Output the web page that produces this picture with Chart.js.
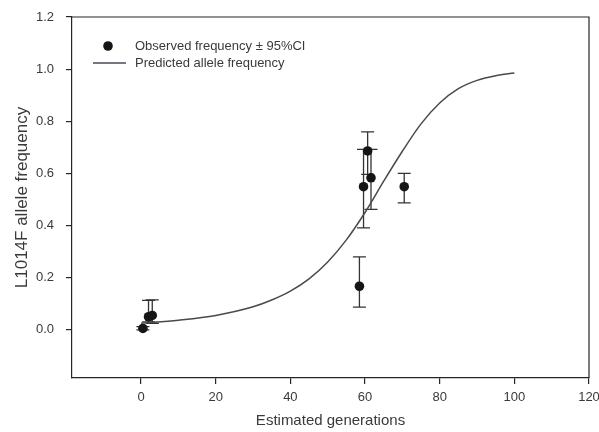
<!DOCTYPE html>
<html>
<head>
<meta charset="utf-8">
<script src="https://cdn.jsdelivr.net/npm/chart.js@4.4.1/dist/chart.umd.min.js"></script>
<style>
  html, body { margin: 0; padding: 0; background: #ffffff; }
  #wrap { width: 599px; height: 432px; }
</style>
</head>
<body>
<div id="wrap"><canvas id="c" width="599" height="432"></canvas></div>
<script>
// Observed L1014F frequencies with 95% confidence limits
const obsGen   = [0.5, 2, 3, 58.5, 59.6, 60.7, 61.6, 70.5];
const obsFreq  = [0.005, 0.05, 0.055, 0.167, 0.549, 0.686, 0.583, 0.549];
const ciLow    = [0.0, 0.03, 0.025, 0.087, 0.391, 0.596, 0.462, 0.487];
const ciHigh   = [0.012, 0.113, 0.115, 0.28, 0.692, 0.759, 0.692, 0.6];

// Predicted allele frequency trajectory
const predGen  = [0, 10, 20, 30, 35, 40, 45, 50, 55, 60, 65, 70, 75, 80, 85, 90, 95, 100];
const predFreq = [0.025, 0.037, 0.055, 0.088, 0.114, 0.148, 0.195, 0.26, 0.345, 0.45, 0.57, 0.685, 0.79, 0.87, 0.925, 0.957, 0.975, 0.985];

// Axis ticks
const xTicks = [0, 20, 40, 60, 80, 100, 120];
const yTicks = [0, 0.2, 0.4, 0.6, 0.8, 1.0, 1.2];

const labels = {
  observed: 'Observed frequency \u00b1 95%CI',
  predicted: 'Predicted allele frequency',
  x: 'Estimated generations',
  y: 'L1014F allele frequency'
};

const FONT = '"Liberation Sans", Arial, sans-serif';
const AXIS = '#262626';
const TEXT = '#3a3a3a';

// Vertical error bars with caps, drawn through the chart scales
const errorBars = {
  id: 'errorBars',
  beforeDatasetsDraw(chart) {
    const {ctx, scales: {x, y}} = chart;
    ctx.save();
    ctx.strokeStyle = '#333';
    ctx.lineWidth = 1.3;
    const cap = 6.5;
    obsGen.forEach((g, i) => {
      const px = x.getPixelForValue(g);
      const lo = y.getPixelForValue(ciLow[i]);
      const hi = y.getPixelForValue(ciHigh[i]);
      ctx.beginPath();
      ctx.moveTo(px, lo); ctx.lineTo(px, hi);
      ctx.moveTo(px - cap, lo); ctx.lineTo(px + cap, lo);
      ctx.moveTo(px - cap, hi); ctx.lineTo(px + cap, hi);
      ctx.stroke();
    });
    ctx.restore();
  }
};

// Closes the plot frame and draws the in-plot legend
const frameAndLegend = {
  id: 'frameAndLegend',
  afterDraw(chart) {
    const {ctx, chartArea: a} = chart;
    ctx.save();
    ctx.strokeStyle = AXIS;
    ctx.lineWidth = 1.2;
    ctx.beginPath();
    ctx.moveTo(a.left, a.top); ctx.lineTo(a.right, a.top); ctx.lineTo(a.right, a.bottom);
    ctx.stroke();

    const ds = chart.data.datasets;
    ctx.font = '13px ' + FONT;
    ctx.fillStyle = TEXT;
    ctx.textBaseline = 'middle';
    ctx.textAlign = 'left';
    // observed marker
    ctx.beginPath();
    ctx.arc(108, 46, 4.8, 0, Math.PI * 2);
    ctx.fillStyle = '#151515';
    ctx.fill();
    ctx.fillStyle = TEXT;
    ctx.fillText(ds[1].label, 135, 46);
    // predicted line
    ctx.strokeStyle = '#4a4a55';
    ctx.lineWidth = 1.5;
    ctx.beginPath();
    ctx.moveTo(93, 63); ctx.lineTo(126, 63);
    ctx.stroke();
    ctx.fillText(ds[0].label, 135, 63);
    ctx.restore();
  }
};

new Chart(document.getElementById('c'), {
  data: {
    datasets: [
      {
        type: 'line',
        label: labels.predicted,
        data: predGen.map((g, i) => ({x: g, y: predFreq[i]})),
        borderColor: '#4a4a4a',
        borderWidth: 1.5,
        pointRadius: 0,
        fill: false,
        cubicInterpolationMode: 'monotone'
      },
      {
        type: 'scatter',
        label: labels.observed,
        data: obsGen.map((g, i) => ({x: g, y: obsFreq[i]})),
        backgroundColor: '#151515',
        borderColor: '#151515',
        pointRadius: 4.8,
        pointHoverRadius: 4.8,
        borderWidth: 0
      }
    ]
  },
  options: {
    responsive: false,
    animation: false,
    events: [],
    layout: { padding: { top: 17, right: 10, left: 0, bottom: 0 } },
    plugins: {
      legend: { display: false },
      tooltip: { enabled: false }
    },
    scales: {
      x: {
        type: 'linear',
        min: -18.5,
        max: 120,
        afterBuildTicks(s) { s.ticks = xTicks.map(v => ({value: v})); },
        afterFit(s) { s.height = 54; s.paddingLeft = 0; s.paddingRight = 0; },
        grid: { display: true, drawOnChartArea: false, drawTicks: true, tickLength: 6, color: AXIS, tickColor: AXIS, lineWidth: 1.2 },
        border: { display: true, color: AXIS, width: 1.2 },
        ticks: {
          padding: 6,
          color: TEXT,
          font: { family: FONT, size: 13 },
          maxRotation: 0,
          callback: v => String(v)
        },
        title: {
          display: true,
          text: labels.x,
          color: TEXT,
          font: { family: FONT, size: 15 },
          padding: { top: 0, bottom: 2 }
        }
      },
      y: {
        type: 'linear',
        min: -0.185,
        max: 1.2,
        afterBuildTicks(s) { s.ticks = yTicks.map(v => ({value: v})); },
        afterFit(s) { s.width = 72; s.paddingTop = 0; s.paddingBottom = 0; },
        grid: { display: true, drawOnChartArea: false, drawTicks: true, tickLength: 6, color: AXIS, tickColor: AXIS, lineWidth: 1.2 },
        border: { display: true, color: AXIS, width: 1.2 },
        ticks: {
          padding: 12,
          color: TEXT,
          font: { family: FONT, size: 13 },
          callback: v => Number(v).toFixed(1)
        },
        title: {
          display: true,
          text: labels.y,
          color: TEXT,
          font: { family: FONT, size: 17 },
          padding: { top: 12, bottom: 0 }
        }
      }
    }
  },
  plugins: [errorBars, frameAndLegend]
});
</script>
</body>
</html>
